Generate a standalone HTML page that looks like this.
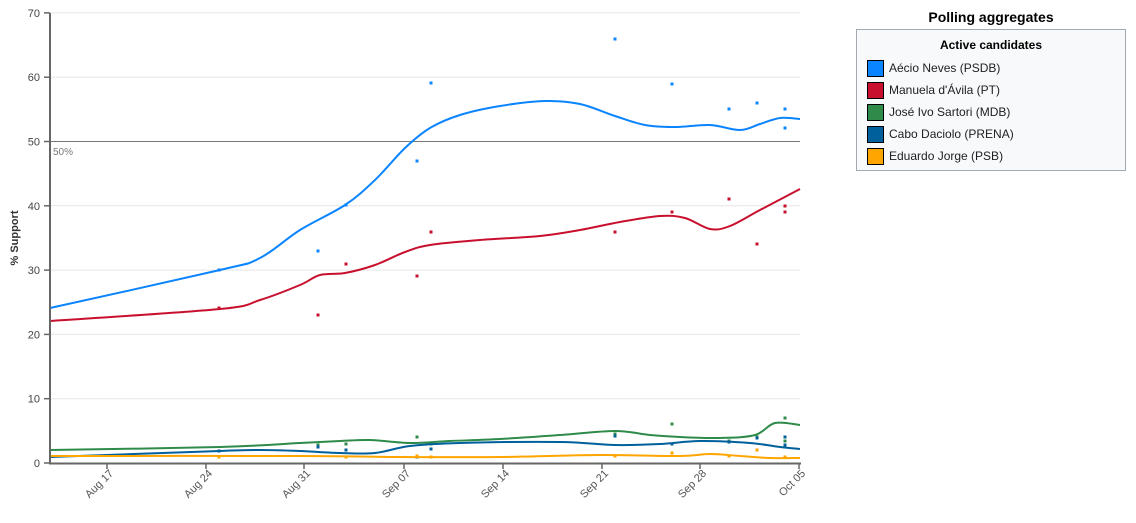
<!DOCTYPE html>
<html><head><meta charset="utf-8"><style>
body{margin:0;background:#fff;font-family:"Liberation Sans",sans-serif;}
#wrap{position:relative;width:1136px;height:523px;overflow:hidden}
.leg{position:absolute;left:856px;top:29px;width:270px;height:142px;border:1px solid #a2a9b1;background:#f8f9fa;box-sizing:border-box}
.title{position:absolute;left:856px;top:9px;width:270px;text-align:center;font-weight:bold;font-size:14px;color:#000}
.lt{text-align:center;font-weight:bold;font-size:12px;margin-top:8px;margin-bottom:5px}
.it{display:flex;align-items:center;font-size:12px;height:22px;padding-left:10px;color:#202122}
.sw{width:15px;height:15px;border:1px solid #000;margin-right:5px}
</style></head><body><div id="wrap">
<svg id="s" width="1136" height="523" style="position:absolute;left:0;top:0"></svg>
<div class="title">Polling aggregates</div>
<div class="leg"><div class="lt">Active candidates</div>
<div class="it"><div class="sw" style="background:#0a84ff"></div>Aécio Neves (PSDB)</div>
<div class="it"><div class="sw" style="background:#c8102e"></div>Manuela d'Ávila (PT)</div>
<div class="it"><div class="sw" style="background:#2e8b4a"></div>José Ivo Sartori (MDB)</div>
<div class="it"><div class="sw" style="background:#00609c"></div>Cabo Daciolo (PRENA)</div>
<div class="it"><div class="sw" style="background:#ffa500"></div>Eduardo Jorge (PSB)</div>
</div></div>
<script>
var s='';
function y(v){return 463-v*6.43;}
for(var v=0;v<=70;v+=10){var yy=y(v);
 if(v>0&&v!=50)s+='<line x1="50" x2="800" y1="'+yy+'" y2="'+yy+'" stroke="#e6e6e6"/>';
 s+='<line x1="44" x2="50" y1="'+yy+'" y2="'+yy+'" stroke="#666" stroke-width="1.5"/>';
 s+='<text x="40" y="'+(yy+4)+'" font-size="11" fill="#444" text-anchor="end">'+v+'</text>';}
s+='<line x1="50" x2="800" y1="141.5" y2="141.5" stroke="#777"/>';
s+='<text x="53" y="155" font-size="10" fill="#777">50%</text>';
s+='<text transform="translate(18,238) rotate(-90)" font-size="11" font-weight="bold" fill="#333" text-anchor="middle">% Support</text>';
var ticks=[[107,'Aug 17'],[206,'Aug 24'],[304,'Aug 31'],[404,'Sep 07'],[503,'Sep 14'],[602,'Sep 21'],[700,'Sep 28'],[799,'Oct 05']];
ticks.forEach(function(t){s+='<line x1="'+t[0]+'" x2="'+t[0]+'" y1="463" y2="469" stroke="#666" stroke-width="1.5"/>';
 s+='<text transform="translate('+(t[0]+7)+',474) rotate(-45)" font-size="11" fill="#555" text-anchor="end">'+t[1]+'</text>';});
function path(p){var d='M'+p[0][0]+','+p[0][1];for(var i=0;i<p.length-1;i++){var p0=p[Math.max(i-1,0)],p1=p[i],p2=p[i+1],p3=p[Math.min(i+2,p.length-1)];
 d+=' C'+(p1[0]+(p2[0]-p0[0])/6)+','+(p1[1]+(p2[1]-p0[1])/6)+' '+(p2[0]-(p3[0]-p1[0])/6)+','+(p2[1]-(p3[1]-p1[1])/6)+' '+p2[0]+','+p2[1];}return d;}
var S=[
['#0a84ff',[[50,308],[220,270],[260,258],[300,230],[345,205],[375,180],[405,148],[430,128],[460,115],[500,106],[545,101],[580,104],[615,116],[645,125],[675,127],[710,125],[740,130],[760,124],[780,118],[800,119]],
 [[219,270],[318,251],[346,205],[417,161],[431,83],[615,39],[672,84],[729,109],[757,103],[785,109],[785,128]]],
['#c8102e',[[50,321],[220,309],[260,300],[300,285],[320,275],[345,273],[375,265],[405,252],[430,245],[480,240],[540,236],[580,230],[620,222],[660,216],[685,218],[710,229],[730,226],[760,210],[800,189]],
 [[219,308],[318,315],[346,264],[417,276],[431,232],[615,232],[672,212],[729,199],[757,244],[785,206],[785,212]]],
['#2e8b4a',[[50,450],[220,447],[300,443],[340,441],[370,440],[410,443],[450,441],[500,439],[560,435],[615,431],[650,435],[680,437],[720,438],[755,435],[775,423],[800,425]],
 [[219,451],[318,445],[346,444],[417,437],[431,444],[615,434],[672,424],[729,441],[757,437],[785,418],[785,441]]],
['#00609c',[[50,457],[220,451],[260,450],[300,451],[340,453],[375,453],[410,446],[460,443],[560,442],[615,445],[660,444],[700,441],[750,443],[780,447],[800,449]],
 [[219,451],[318,447],[346,450],[417,457],[431,449],[615,436],[672,444],[729,442],[757,438],[785,437],[785,445]]],
['#ffa500',[[50,456],[300,456],[400,457],[500,457],[600,455],[680,456],[710,454],[740,456],[770,458],[800,458]],
 [[219,457],[346,457],[417,456],[431,457],[615,456],[672,453],[729,456],[757,450],[785,457]]]];
S.forEach(function(c){c[2].forEach(function(p){s+='<rect x="'+(p[0]-1.5)+'" y="'+(p[1]-1.5)+'" width="3" height="3" fill="'+c[0]+'"/>';});
 s+='<path d="'+path(c[1])+'" fill="none" stroke="'+c[0]+'" stroke-width="2"/>';});
s+='<line x1="50" x2="50" y1="13" y2="464" stroke="#666" stroke-width="2"/>';
s+='<line x1="49" x2="801" y1="463.5" y2="463.5" stroke="#666" stroke-width="2"/>';
document.getElementById('s').innerHTML=s;
</script></body></html>
